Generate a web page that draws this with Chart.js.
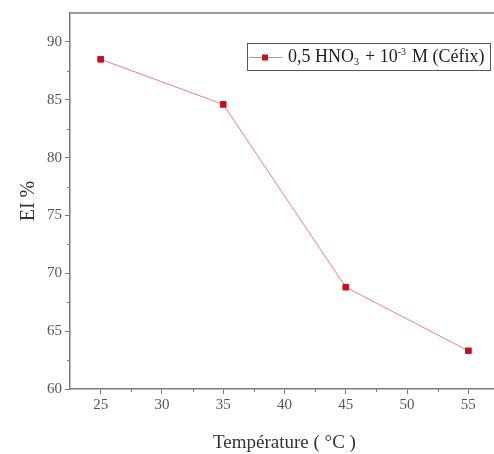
<!DOCTYPE html>
<html>
<head>
<meta charset="utf-8">
<script src="https://cdn.jsdelivr.net/npm/chart.js@4"></script>
<style>
  html, body { margin: 0; padding: 0; background: #fff; overflow: hidden; }
  #wrap { width: 510px; height: 454px; }
</style>
</head>
<body>
<div id="wrap"><canvas id="chart" width="510" height="454"></canvas></div>
<script>
// data
const temperatures = [25, 35, 45, 55];
const eiValues = [88.5, 84.6, 68.8, 63.3];
// legend label pieces: [text, 'sub' | 'sup' | '']
const labelParts = [['0,5 HNO', ''], ['3', 'sub'], [' + 10', ''], ['-3', 'sup'], [' M (C\u00E9fix)', '']];
const seriesLabel = '0,5 HNO\u2083 + 10\u207B\u00B3 M (C\u00E9fix)';
const xTitle = 'Temp\u00E9rature ( \u00B0C )';
const yTitle = 'EI %';

const serif = '"Liberation Serif", "DejaVu Serif", serif';
const axisGray = '#7a7a7a';

// top frame line + legend box drawn inside the plot
const frameAndLegend = {
    id: 'frameAndLegend',
    afterDraw(chart) {
        const ctx = chart.ctx;
        const a = chart.chartArea;
        ctx.save();
        ctx.strokeStyle = axisGray;
        ctx.lineWidth = 1.5;
        ctx.beginPath();
        ctx.moveTo(a.left, a.top);
        ctx.lineTo(a.right, a.top);
        ctx.stroke();

        // legend
        const ds = chart.data.datasets[0];
        const x0 = 247, y0 = 43, w = 243, h = 27;
        ctx.strokeStyle = '#555';
        ctx.lineWidth = 1;
        ctx.strokeRect(x0 + 0.5, y0 + 0.5, w, h);
        const cy = y0 + h / 2 + 1;
        ctx.strokeStyle = ds.borderColor;
        ctx.beginPath();
        ctx.moveTo(x0 + 2, cy);
        ctx.lineTo(x0 + 35, cy);
        ctx.stroke();
        ctx.fillStyle = ds.pointBackgroundColor;
        ctx.fillRect(x0 + 15, cy - 3, 6, 6);
        ctx.fillStyle = '#222';
        ctx.textBaseline = 'middle';
        let tx = x0 + 41;
        labelParts.forEach(([t, kind]) => {
            const small = kind !== '';
            ctx.font = (small ? '10px ' : '18px ') + serif;
            const dy = kind === 'sub' ? 5 : kind === 'sup' ? -5 : 0;
            ctx.fillText(t, tx, cy + dy);
            tx += ctx.measureText(t).width + (small ? 1.5 : 0);
        });
        ctx.restore();
    }
};

// shorter minor ticks between labelled ones
const minorTicks = {
    id: 'minorTicks',
    afterDraw(chart) {
        const ctx = chart.ctx;
        const xs = chart.scales.x, ys = chart.scales.y;
        ctx.save();
        ctx.strokeStyle = axisGray;
        ctx.lineWidth = 1;
        ctx.beginPath();
        for (let v = 27.5; v < xs.max; v += 5) {
            const px = Math.round(xs.getPixelForValue(v)) + 0.5;
            ctx.moveTo(px, xs.top);
            ctx.lineTo(px, xs.top + 3);
        }
        for (let v = 62.5; v < ys.max; v += 5) {
            const py = Math.round(ys.getPixelForValue(v)) + 0.5;
            ctx.moveTo(ys.right, py);
            ctx.lineTo(ys.right - 3, py);
        }
        ctx.stroke();
        ctx.restore();
    }
};

const data = {
    datasets: [
        {
            label: seriesLabel,
            data: temperatures.map((t, i) => ({ x: t, y: eiValues[i] })),
            borderColor: '#ef7d7d',
            borderWidth: 1,
            pointStyle: 'rect',
            pointRadius: 4,
            pointBackgroundColor: '#c8101a',
            pointBorderColor: '#c8101a',
            tension: 0,
        },
    ],
};

const config = {
    type: 'line',
    data: data,
    options: {
        responsive: false,
        animation: false,
        layout: { padding: { top: 13, right: 11, left: 0, bottom: 0 } },
        plugins: {
            legend: { display: false },
            tooltip: { enabled: false },
        },
        scales: {
            x: {
                type: 'linear',
                min: 22.5,
                max: 57.5,
                afterFit: (s) => { s.height = 65; },
                border: { color: axisGray, width: 1.5 },
                grid: { drawOnChartArea: false, tickLength: 5, color: axisGray },
                ticks: {
                    autoSkip: false,
                    maxRotation: 0,
                    padding: 2,
                    color: '#555',
                    font: { family: serif, size: 15 },
                },
                afterBuildTicks: (s) => {
                    s.ticks = [25, 30, 35, 40, 45, 50, 55].map(v => ({ value: v }));
                },
                title: {
                    display: true,
                    text: xTitle,
                    color: '#333',
                    font: { family: serif, size: 19 },
                    padding: { top: 3, bottom: 0 },
                },
            },
            y: {
                min: 60,
                max: 92.5,
                afterFit: (s) => { s.width = 70; },
                border: { color: axisGray, width: 1.5 },
                grid: { drawOnChartArea: false, tickLength: 5, color: axisGray },
                afterBuildTicks: (s) => {
                    s.ticks = [60, 65, 70, 75, 80, 85, 90].map(v => ({ value: v }));
                },
                ticks: {
                    padding: 3,
                    color: '#555',
                    font: { family: serif, size: 15 },
                },
                title: {
                    display: true,
                    text: yTitle,
                    color: '#333',
                    font: { family: serif, size: 20 },
                    padding: { top: 17, bottom: 4 },
                },
            },
        },
    },
    plugins: [frameAndLegend, minorTicks],
};

const myChart = new Chart(document.getElementById('chart').getContext('2d'), config);
</script>
</body>
</html>
